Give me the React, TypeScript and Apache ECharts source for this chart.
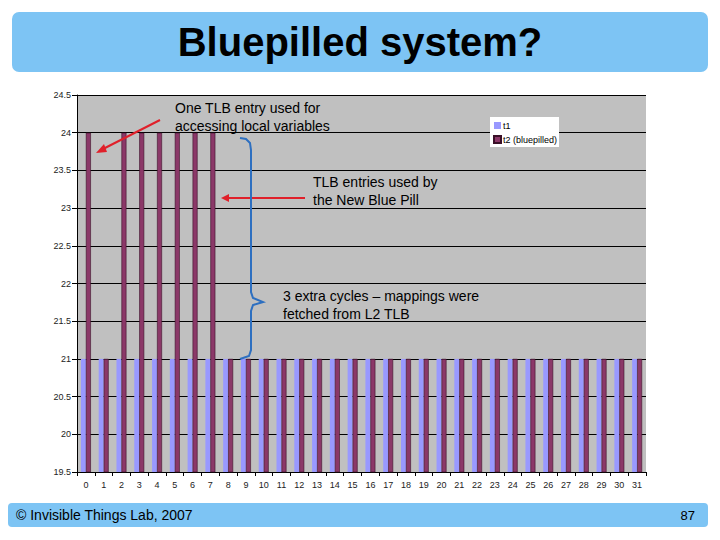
import React, { useEffect, useRef } from "react";
import * as echarts from "echarts";

const categories: string[] = Array.from({ length: 32 }, (_, i) => String(i));
const t1Values: number[] = [
  21, 21, 21, 21, 21, 21, 21, 21, 21, 21, 21, 21, 21, 21, 21, 21,
  21, 21, 21, 21, 21, 21, 21, 21, 21, 21, 21, 21, 21, 21, 21, 21,
];
const t2Values: number[] = [
  24, 21, 24, 24, 24, 24, 24, 24, 21, 21, 21, 21, 21, 21, 21, 21,
  21, 21, 21, 21, 21, 21, 21, 21, 21, 21, 21, 21, 21, 21, 21, 21,
];
const seriesNames: string[] = ["t1", "t2 (bluepilled)"];

export default function App() {
  const ref = useRef<HTMLDivElement>(null);
  useEffect(() => {
    if (!ref.current) return;
    const chart = echarts.init(ref.current, null, { renderer: "svg" });
    const red = "#e0202a";
    const blue = "#2d6fc0";
    chart.setOption({
      animation: false,
      backgroundColor: "#ffffff",
      grid: { left: 77, right: 74, top: 95, bottom: 68, show: true, backgroundColor: "#c0c0c0", borderWidth: 0 },
      legend: {
        data: seriesNames,
        orient: "vertical",
        left: 490,
        top: 117,
        backgroundColor: "#ffffff",
        padding: [4, 2, 3, 3],
        itemWidth: 7,
        itemHeight: 7,
        itemGap: 5,
        icon: "rect",
        textStyle: { fontSize: 9, fontFamily: "Arial, Liberation Sans", color: "#000", padding: [0, 0, 0, -3] },
      },
      xAxis: {
        type: "category",
        data: categories,
        boundaryGap: true,
        axisLine: { show: true, lineStyle: { color: "#000", width: 1 } },
        axisTick: { show: true, alignWithLabel: false, length: 4, lineStyle: { color: "#000" } },
        axisLabel: { fontSize: 9, fontFamily: "Arial, Liberation Sans", color: "#222", margin: 8, interval: 0 },
        splitLine: { show: false },
      },
      yAxis: {
        type: "value",
        min: 19.5,
        max: 24.5,
        interval: 0.5,
        axisLine: { show: true, lineStyle: { color: "#000", width: 1 } },
        axisTick: { show: true, length: 5, lineStyle: { color: "#000" } },
        axisLabel: { fontSize: 9, fontFamily: "Arial, Liberation Sans", color: "#222", margin: 6 },
        splitLine: { show: true, lineStyle: { color: "#000", width: 1 } },
      },
      series: [
        {
          name: seriesNames[0],
          type: "bar",
          data: t1Values,
          barGap: "0%",
          barCategoryGap: "44%",
          itemStyle: { color: "#9999ff" },
        },
        {
          name: seriesNames[1],
          type: "bar",
          data: t2Values,
          barGap: "0%",
          barCategoryGap: "44%",
          itemStyle: { color: "#8b3868", borderColor: "#3a1028", borderWidth: 0.6 },
        },
      ],
      graphic: [
        { type: "rect", shape: { x: 12, y: 12, width: 696, height: 60, r: 7 }, style: { fill: "#7dc4f4" }, z: 1 },
        {
          type: "text",
          x: 360,
          y: 42,
          style: {
            text: "Bluepilled system?",
            font: "bold 40px Arial, 'Liberation Sans'",
            fill: "#000",
            align: "center",
            verticalAlign: "middle",
          },
          z: 2,
        },
        { type: "rect", shape: { x: 8, y: 503, width: 700, height: 24, r: 4 }, style: { fill: "#7dc4f4" }, z: 1 },
        {
          type: "text",
          x: 16,
          y: 515,
          style: { text: "© Invisible Things Lab, 2007", font: "14px Arial, 'Liberation Sans'", fill: "#000", verticalAlign: "middle" },
          z: 2,
        },
        {
          type: "text",
          x: 695,
          y: 515,
          style: { text: "87", font: "13px Arial, 'Liberation Sans'", fill: "#000", align: "right", verticalAlign: "middle" },
          z: 2,
        },
        {
          type: "text",
          x: 175,
          y: 99,
          style: {
            text: "One TLB entry used for\naccessing local variables",
            font: "14px Arial, 'Liberation Sans'",
            lineHeight: 18,
            fill: "#000",
          },
          z: 10,
        },
        { type: "line", shape: { x1: 160, y1: 120, x2: 103, y2: 149 }, style: { stroke: red, lineWidth: 2 }, z: 10 },
        { type: "polygon", shape: { points: [[96, 153], [104, 144], [107, 152]] }, style: { fill: red }, z: 10 },
        {
          type: "text",
          x: 313,
          y: 173,
          style: {
            text: "TLB entries used by\nthe New Blue Pill",
            font: "14px Arial, 'Liberation Sans'",
            lineHeight: 18,
            fill: "#000",
          },
          z: 10,
        },
        { type: "line", shape: { x1: 305, y1: 198, x2: 228, y2: 198 }, style: { stroke: red, lineWidth: 2 }, z: 10 },
        { type: "polygon", shape: { points: [[221, 198], [229, 194], [229, 202]] }, style: { fill: red }, z: 10 },
        {
          type: "polyline",
          shape: {
            points: [
              [240, 138], [246, 139], [250, 143], [251, 150], [251, 292], [253, 298], [263, 302],
              [253, 305], [251, 311], [251, 350], [249, 356], [240, 359],
            ],
          },
          style: { stroke: blue, lineWidth: 2, fill: null },
          z: 10,
        },
        {
          type: "text",
          x: 283,
          y: 287,
          style: {
            text: "3 extra cycles – mappings were\nfetched from L2 TLB",
            font: "14px Arial, 'Liberation Sans'",
            lineHeight: 18,
            fill: "#000",
          },
          z: 10,
        },
      ],
    });
    return () => chart.dispose();
  }, []);
  return (
    <div
      ref={ref}
      style={{ position: "fixed", left: 0, top: 0, width: 720, height: 540, background: "#fff" }}
    />
  );
}
